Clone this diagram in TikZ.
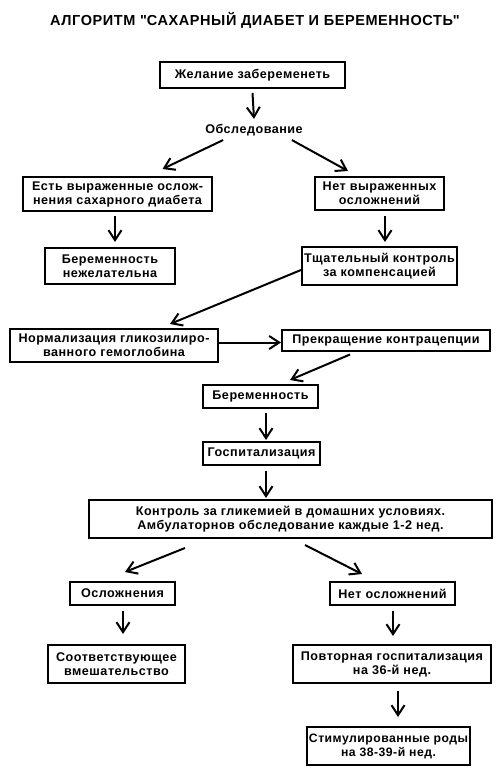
\documentclass[tikz,border=0pt]{standalone}
\usepackage{fontspec}
\setmainfont{Liberation Sans}[LetterSpace=4]
\usepackage{tikz}
\usetikzlibrary{positioning, arrows.meta}

\begin{document}
\begin{tikzpicture}[x=1pt, y=-1pt,
    box/.style={draw, line width=2pt, align=center, inner sep=0pt,
      font=\bfseries\fontsize{12.6}{14}\selectfont},
    arr/.style={line width=2pt, -{Straight Barb[length=10pt, width=13pt, line width=2pt]}}]
  \useasboundingbox[fill=white] (0,0) rectangle (500,778);

  % Title
  \node[font=\bfseries\fontsize{14.5}{15}\selectfont] (title) at (255,20)
    {АЛГОРИТМ \textquotedbl САХАРНЫЙ ДИАБЕТ И БЕРЕМЕННОСТЬ\textquotedbl};

  % Planning
  \node[box, minimum width=185pt, minimum height=26pt] (want) at (252.5,75)
    {Желание забеременеть};
  \node[font=\bfseries\fontsize{12.6}{14}\selectfont, inner sep=1pt] (exam) at (254,130)
    {Обследование};
  \node[box, minimum width=189pt, minimum height=34pt] (compl) at (117.5,194)
    {Есть выраженные ослож-\\нения сахарного диабета};
  \node[box, minimum width=129pt, minimum height=33pt] (nocompl) at (379.5,193.5)
    {Нет выраженных\\осложнений};
  \node[box, minimum width=130pt, minimum height=36pt] (undesired) at (110,266)
    {Беременность\\нежелательна};
  \node[box, minimum width=155pt, minimum height=38pt] (control) at (379.5,266)
    {Тщательный контроль\\за компенсацией};
  \node[box, minimum width=208pt, minimum height=33pt] (hba) at (114,345.5)
    {Нормализация гликозилиро-\\ванного гемоглобина};
  \node[box, minimum width=208pt, minimum height=21pt] (stop) at (386,340)
    {Прекращение контрацепции};

  % Pregnancy
  \node[box, minimum width=115pt, minimum height=23pt] (preg) at (260.5,396.5)
    {Беременность};
  \node[box, minimum width=117pt, minimum height=23pt] (hosp) at (261.5,453.5)
    {Госпитализация};
  \node[box, minimum width=403pt, minimum height=38pt] (home) at (290.5,519)
    {Контроль за гликемией в домашних условиях.\\Амбулаторнов обследование каждые 1-2 нед.};
  \node[box, minimum width=105pt, minimum height=23pt] (osl) at (122.5,593.5)
    {Осложнения};
  \node[box, minimum width=125pt, minimum height=23pt] (noosl) at (392.5,593.5)
    {Нет осложнений};
  \node[box, minimum width=137pt, minimum height=38pt] (act) at (116.5,664)
    {Соответствующее\\вмешательство};
  \node[box, minimum width=198pt, minimum height=38pt] (rehosp) at (392,664)
    {Повторная госпитализация\\на 36-й нед.};
  \node[box, minimum width=163pt, minimum height=38pt, font=\bfseries\fontsize{12.2}{14}\selectfont] (birth) at (388.5,746)
    {Стимулированные роды\\на 38-39-й нед.};

  % Arrows
  \draw[arr] ([yshift=-4pt]want.south) -- ([yshift=4pt]exam.north);
  \draw[arr] ([xshift=19pt,yshift=-3pt]exam.south west) -- ([xshift=45pt,yshift=7pt]compl.north);
  \draw[arr] ([xshift=-12pt,yshift=-3pt]exam.south east) -- ([xshift=-31.5pt,yshift=5pt]nocompl.north);
  \draw[arr] ([xshift=-2.5pt,yshift=-4pt]compl.south) -- ([xshift=5pt,yshift=5pt]undesired.north);
  \draw[arr] ([xshift=5.5pt,yshift=-5pt]nocompl.south) -- ([xshift=5.5pt,yshift=4pt]control.north);
  \draw[arr] ([yshift=-4pt]control.west) -- ([xshift=56pt,yshift=4pt]hba.north);
  \draw[arr] ([yshift=3pt]hba.east) -- ([yshift=-2.5pt]stop.west);
  \draw[arr] ([xshift=-36pt,yshift=-3pt]stop.south) -- ([xshift=29.5pt,yshift=4pt]preg.north);
  \draw[arr] ([xshift=5.5pt,yshift=-4pt]preg.south) -- ([xshift=4.5pt,yshift=1pt]hosp.north);
  \draw[arr] ([xshift=4.5pt,yshift=-5pt]hosp.south) -- ([xshift=-24.5pt,yshift=1pt]home.north);
  \draw[arr] ([xshift=-105.5pt,yshift=-9pt]home.south) -- ([xshift=2.5pt,yshift=9pt]osl.north);
  \draw[arr] ([xshift=14.5pt,yshift=-6pt]home.south) -- ([xshift=-30.5pt,yshift=7pt]noosl.north);
  \draw[arr] ([xshift=0.5pt,yshift=-5pt]osl.south) -- ([xshift=6.5pt,yshift=10pt]act.north);
  \draw[arr] ([xshift=0.5pt,yshift=-5pt]noosl.south) -- ([xshift=1pt,yshift=8pt]rehosp.north);
  \draw[arr] ([xshift=6pt,yshift=-7pt]rehosp.south) -- ([xshift=9.5pt,yshift=9pt]birth.north);
\end{tikzpicture}
\end{document}
